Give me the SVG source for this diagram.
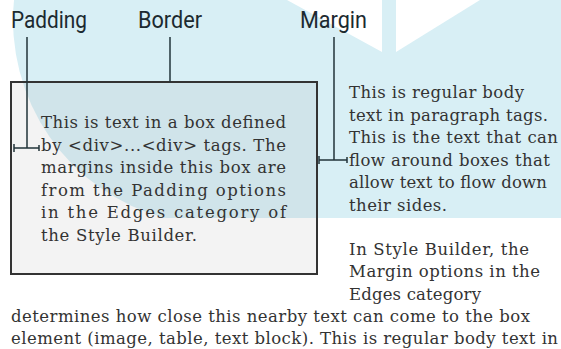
<svg xmlns="http://www.w3.org/2000/svg" width="561" height="349" viewBox="0 0 561 349">
<style>
.lbl{font-family:Roboto,"Liberation Sans",sans-serif;font-size:23px;fill:#1c2a30}
.body{font-family:"DejaVu Serif","Liberation Serif",serif;font-size:16.5px;fill:#333}
.ln{stroke:#22343a;stroke-width:1.5;fill:none}
</style>
<rect x="0" y="0" width="561" height="349" fill="#ffffff"/>
<g id="background">
<path d="M14,0 A205,205 0 0 0 165,218 L561,218 L561,0 Z" fill="#d8eff5"/>
<polygon points="287,0 382,52 382,0" fill="#ffffff"/>
<polygon points="396,0 396,52 480,0" fill="#ffffff"/>
</g>
<g id="box">
<rect x="11" y="82" width="306" height="192" fill="#8c8c8c" fill-opacity="0.1" stroke="#333" stroke-width="2"/>
<text class="body"><tspan x="41" y="128" textLength="245" lengthAdjust="spacing">This is text in a box defined</tspan><tspan x="41" y="151" textLength="245" lengthAdjust="spacing">by &lt;div&gt;...&lt;div&gt; tags. The</tspan><tspan x="41" y="173" textLength="245" lengthAdjust="spacing">margins inside this box are</tspan><tspan x="41" y="196" textLength="245" lengthAdjust="spacing">from the Padding options</tspan><tspan x="41" y="218" textLength="245" lengthAdjust="spacing">in the Edges category of</tspan><tspan x="41" y="241" textLength="156" lengthAdjust="spacing">the Style Builder.</tspan></text>
</g>
<g id="label-padding"><text class="lbl" x="11" y="28" textLength="76" lengthAdjust="spacingAndGlyphs">Padding</text></g>
<g id="label-border"><text class="lbl" x="138" y="28" textLength="64" lengthAdjust="spacingAndGlyphs">Border</text></g>
<g id="label-margin"><text class="lbl" x="300" y="28" textLength="67" lengthAdjust="spacingAndGlyphs">Margin</text></g>
<g id="connectors">
<path class="ln" d="M27,37 V148 M14,148 H39 M14,144 V152 M39,145 V151"/>
<path class="ln" d="M170,37 V82"/>
<path class="ln" d="M334,37 V160 M319,160 H347 M319,156 V164 M347,157 V163"/>
</g>
<g id="side-text">
<text class="body"><tspan x="349" y="98" textLength="175" lengthAdjust="spacing">This is regular body</tspan><tspan x="349" y="121" textLength="199" lengthAdjust="spacing">text in paragraph tags.</tspan><tspan x="349" y="143" textLength="209" lengthAdjust="spacing">This is the text that can</tspan><tspan x="349" y="166" textLength="201" lengthAdjust="spacing">flow around boxes that</tspan><tspan x="349" y="188" textLength="198" lengthAdjust="spacing">allow text to flow down</tspan><tspan x="349" y="211" textLength="98" lengthAdjust="spacing">their sides.</tspan><tspan x="349" y="255" textLength="180" lengthAdjust="spacing">In Style Builder, the</tspan><tspan x="349" y="277" textLength="191" lengthAdjust="spacing">Margin options in the</tspan><tspan x="349" y="300" textLength="132" lengthAdjust="spacing">Edges category</tspan></text>
</g>
<g id="bottom-text">
<text class="body"><tspan x="11" y="322" textLength="519" lengthAdjust="spacing">determines how close this nearby text can come to the box</tspan><tspan x="11" y="344" textLength="547" lengthAdjust="spacing">element (image, table, text block). This is regular body text in</tspan></text>
</g>
</svg>
